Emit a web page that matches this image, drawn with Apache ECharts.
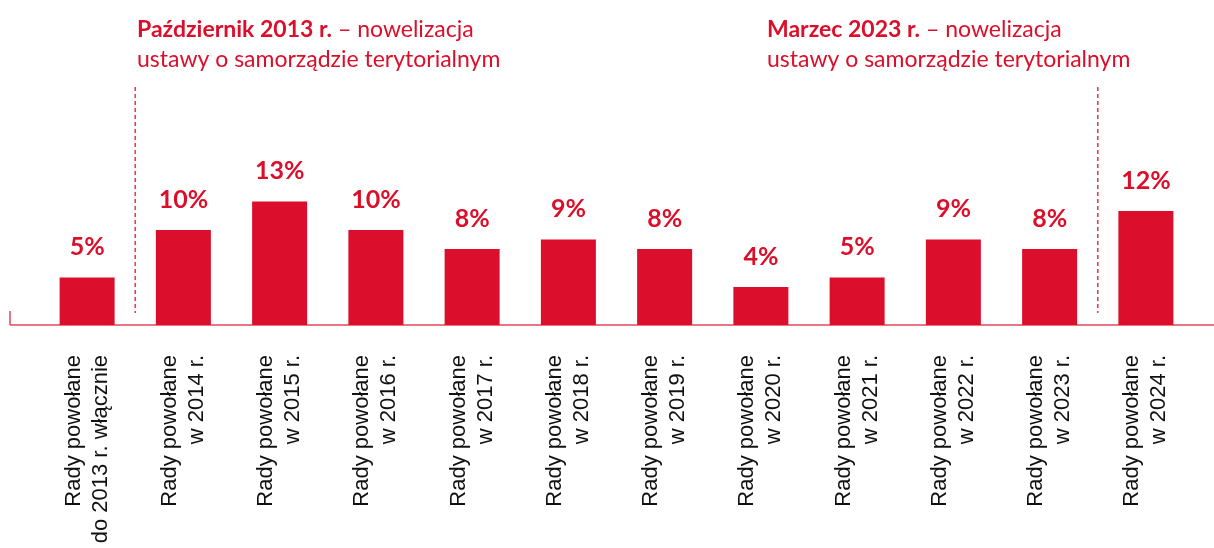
<!DOCTYPE html>
<html>
<head>
<meta charset="utf-8">
<script src="https://cdn.jsdelivr.net/npm/echarts@6/dist/echarts.min.js"></script>
<style>
  html, body { margin: 0; padding: 0; background: #fff; }
  #chart { width: 1214px; height: 548px; }
</style>
</head>
<body>
<div id="chart"></div>
<script>
const categories = [
  'Rady powołane\ndo 2013 r. włącznie',
  'Rady powołane\nw 2014 r.',
  'Rady powołane\nw 2015 r.',
  'Rady powołane\nw 2016 r.',
  'Rady powołane\nw 2017 r.',
  'Rady powołane\nw 2018 r.',
  'Rady powołane\nw 2019 r.',
  'Rady powołane\nw 2020 r.',
  'Rady powołane\nw 2021 r.',
  'Rady powołane\nw 2022 r.',
  'Rady powołane\nw 2023 r.',
  'Rady powołane\nw 2024 r.'
];
const shares = [5, 10, 13, 10, 8, 9, 8, 4, 5, 9, 8, 12];
// dashed separators sit between these category pairs
const breaks = [[0, 1], [10, 11]];

const RED = '#DB0F2B';
const chart = echarts.init(document.getElementById('chart'));

const note = (bold, left) => ({
  left: left, top: 15, padding: 0,
  text: '{b|' + bold + '} – nowelizacja\nustawy o samorządzie terytorialnym',
  textStyle: {
    color: RED, fontFamily: 'Lato', fontSize: 23, fontWeight: 'normal', lineHeight: 30,
    rich: { b: { fontWeight: 'bold', fontSize: 23, fontFamily: 'Lato', color: RED, lineHeight: 30 } }
  }
});

chart.setOption({
  animation: false,
  grid: { left: 39, right: 20, top: 135, bottom: 223 },
  title: [note('Październik 2013 r.', 137), note('Marzec 2023 r.', 767)],
  xAxis: {
    type: 'category',
    data: categories,
    axisLine: { show: false },
    axisTick: { show: false },
    axisLabel: {
      rotate: 90, margin: 30, interval: 0,
      fontFamily: 'Liberation Sans', fontSize: 22, lineHeight: 27, color: '#111'
    }
  },
  yAxis: { type: 'value', min: 0, max: 20, show: false, splitLine: { show: false } },
  series: [{
    type: 'bar',
    data: shares,
    barWidth: 55,
    itemStyle: { color: RED },
    label: {
      show: true, position: 'top', distance: 18,
      formatter: '{c}%',
      fontFamily: 'Lato', fontWeight: 'bold', fontSize: 25, color: RED
    }
  }]
});

function drawExtras() {
  const y0 = chart.convertToPixel({ yAxisIndex: 0 }, 0);
  const els = [
    { type: 'line', shape: { x1: 10, y1: y0, x2: 1214, y2: y0 }, style: { stroke: '#E0475C', lineWidth: 1.5 } },
    { type: 'line', shape: { x1: 10, y1: y0 - 14, x2: 10, y2: y0 }, style: { stroke: '#E0475C', lineWidth: 1.5 } }
  ];
  breaks.forEach(([a, b]) => {
    const x = (chart.convertToPixel({ xAxisIndex: 0 }, a) + chart.convertToPixel({ xAxisIndex: 0 }, b)) / 2;
    els.push({
      type: 'line',
      shape: { x1: x, y1: 87, x2: x, y2: y0 - 12 },
      style: { stroke: '#DF3F55', lineWidth: 1.6, lineDash: [4, 3] }
    });
  });
  chart.setOption({ graphic: els });
}
drawExtras();
</script>
</body>
</html>
